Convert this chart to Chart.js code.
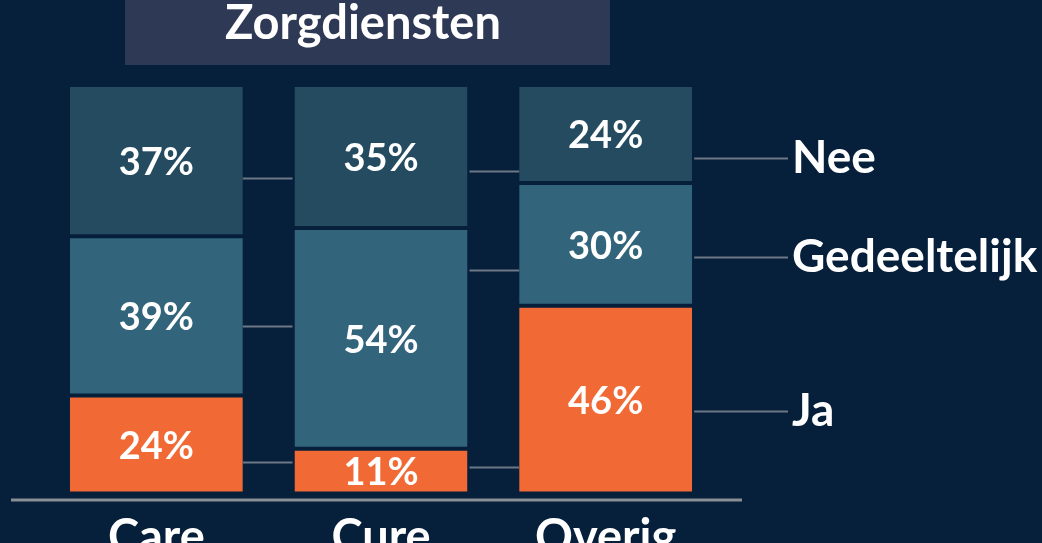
<!DOCTYPE html>
<html>
<head>
<meta charset="utf-8">
<script src="https://cdn.jsdelivr.net/npm/chart.js@4"></script>
<style>
  html, body { margin: 0; padding: 0; background: #061f3b; overflow: hidden; }
  #wrap { width: 1042px; height: 578px; position: relative; }
</style>
</head>
<body>
<div id="wrap"><canvas id="chart"></canvas></div>
<script>
const categories = ["Care", "Cure", "Overig"];
const seriesNames = ["Ja", "Gedeeltelijk", "Nee"];
const ja = [24, 11, 46];
const gedeeltelijk = [39, 54, 30];
const nee = [37, 35, 24];
const chartTitle = "Zorgdiensten";

// connector levels (in %) between neighbouring bars and towards the legend
const linksCareCure = [7.8, 40.9, 77.2];
const linksCureOverig = [6.6, 54.7, 78.9];
const legendLevels = [20.1, 57.8, 82.1];

const BG = "#061f3b";
const FONT = "Lato, 'Open Sans', sans-serif";

const decor = {
  id: "decor",
  beforeDraw(chart) {
    const ctx = chart.ctx;
    ctx.save();
    ctx.fillStyle = "#2e3a55";
    ctx.fillRect(125, 0, 485, 65);
    ctx.fillStyle = "#ffffff";
    ctx.font = "bold 47px " + FONT;
    ctx.textAlign = "center";
    ctx.textBaseline = "middle";
    ctx.fillText(chartTitle, 363, 24);
    ctx.restore();
  },
  afterDatasetsDraw(chart) {
    const ctx = chart.ctx;
    const y = chart.scales.y;
    const area = chart.chartArea;
    ctx.save();
    // value labels
    ctx.fillStyle = "#ffffff";
    ctx.font = "bold 38px " + FONT;
    ctx.textAlign = "center";
    ctx.textBaseline = "middle";
    chart.data.datasets.forEach((ds, di) => {
      chart.getDatasetMeta(di).data.forEach((bar, i) => {
        const c = bar.getCenterPoint();
        ctx.fillText(ds.data[i] + "%", c.x, c.y + 2);
      });
    });
    // connectors
    const bars = chart.getDatasetMeta(0).data;
    const edge = (b, side) => b.x + side * b.width / 2;
    ctx.strokeStyle = "#6c7886";
    ctx.lineWidth = 2;
    const seg = (x1, x2, v) => {
      const py = Math.round(y.getPixelForValue(v)) + 0.5;
      ctx.beginPath();
      ctx.moveTo(x1, py);
      ctx.lineTo(x2, py);
      ctx.stroke();
    };
    linksCareCure.forEach(v => seg(edge(bars[0], 1), edge(bars[1], -1) - 2, v));
    linksCureOverig.forEach(v => seg(edge(bars[1], 1) + 2, edge(bars[2], -1), v));
    const legendX = 788;
    ctx.fillStyle = "#ffffff";
    ctx.font = "bold 46px " + FONT;
    ctx.textAlign = "left";
    legendLevels.forEach((v, i) => {
      seg(edge(bars[2], 1) + 2, legendX, v);
      ctx.fillText(seriesNames[i], legendX + 4, y.getPixelForValue(v));
    });
    // baseline
    ctx.strokeStyle = "#8a8f96";
    ctx.lineWidth = 3;
    ctx.beginPath();
    ctx.moveTo(11, area.bottom + 6.5);
    ctx.lineTo(742, area.bottom + 6.5);
    ctx.stroke();
    ctx.restore();
  }
};

const mk = (label, data, color) => ({
  label, data,
  backgroundColor: color,
  borderColor: BG,
  borderWidth: { top: 2, bottom: 2, left: 0, right: 0 },
  borderSkipped: false,
  barPercentage: 0.77,
  categoryPercentage: 1
});

new Chart(document.getElementById("chart"), {
  type: "bar",
  data: {
    labels: categories,
    datasets: [
      mk(seriesNames[0], ja, "#f16a35"),
      mk(seriesNames[1], gedeeltelijk, "#32647c"),
      mk(seriesNames[2], nee, "#244b60")
    ]
  },
  options: {
    responsive: true,
    maintainAspectRatio: false,
    animation: false,
    layout: { padding: { left: 44, right: 324, top: 85, bottom: 4 } },
    plugins: { legend: { display: false }, tooltip: { enabled: false } },
    scales: {
      x: {
        stacked: true,
        grid: { display: false },
        border: { display: false },
        ticks: { color: "#ffffff", font: { family: FONT, size: 47, weight: "bold" }, padding: 8 }
      },
      y: { stacked: true, display: false, min: 0, max: 100 }
    }
  },
  plugins: [decor]
});
</script>
</body>
</html>
